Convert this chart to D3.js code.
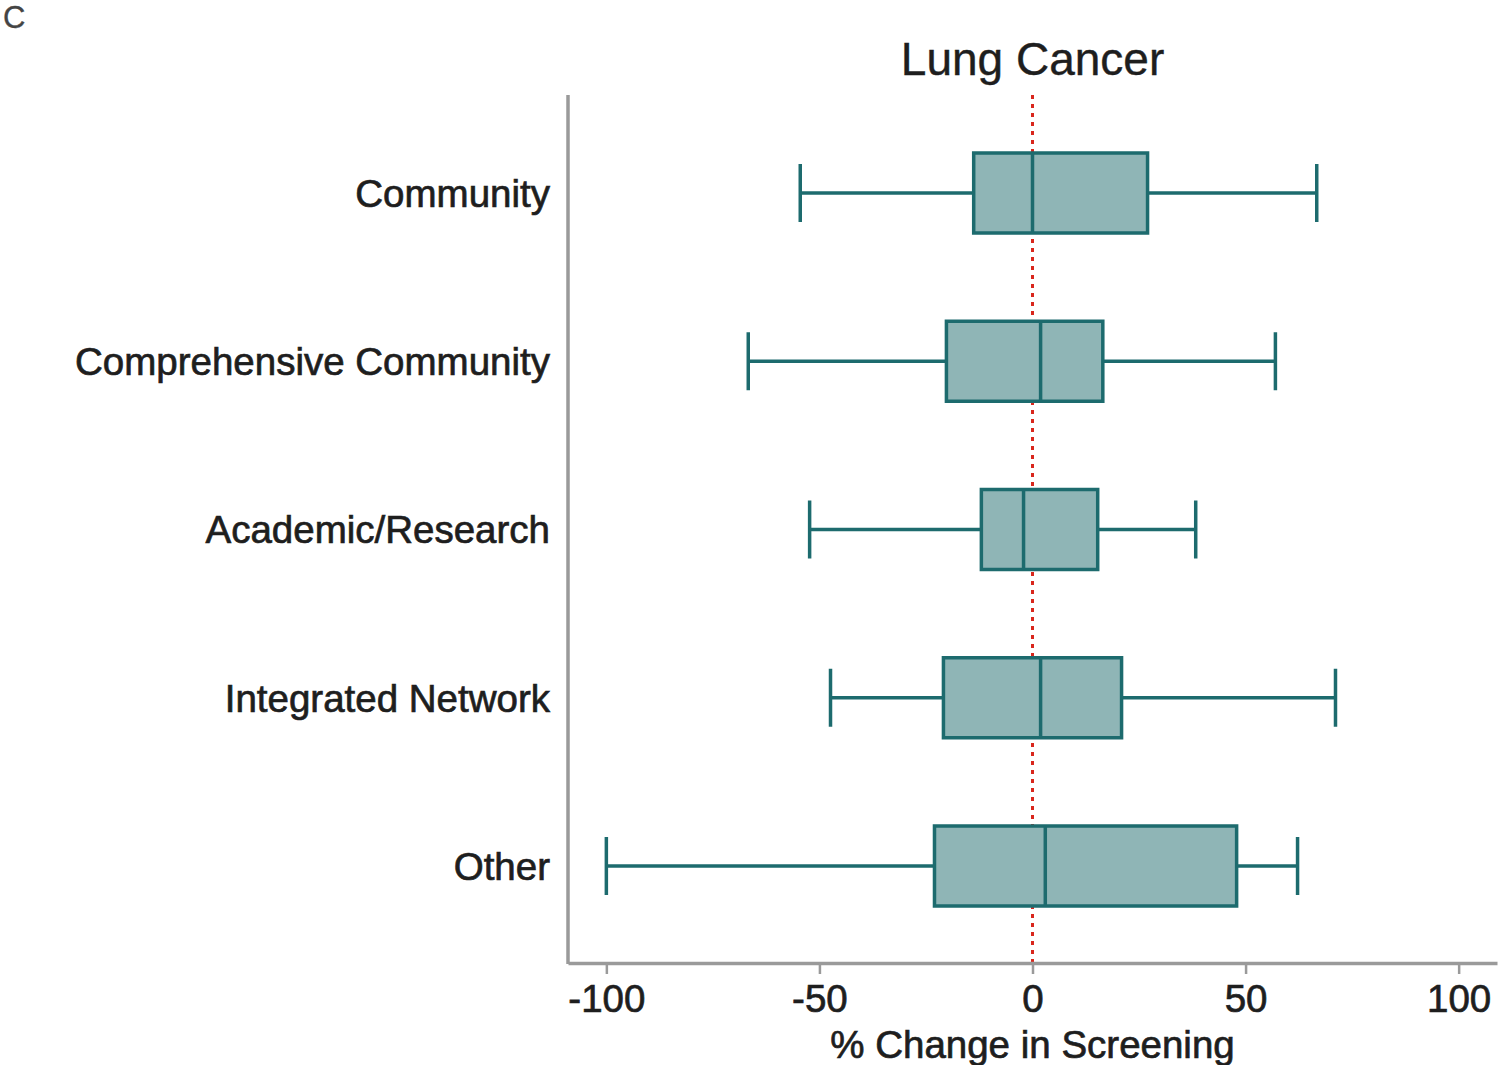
<!DOCTYPE html>
<html><head><meta charset="utf-8">
<script src="https://cdn.jsdelivr.net/npm/d3@7"></script>
<style>body{margin:0;background:#fff}svg{display:block}</style>
</head><body>
<script>
const categories = ["Community","Comprehensive Community","Academic/Research","Integrated Network","Other"];
const whiskerLow = [-54.5,-66.7,-52.3,-47.4,-100];
const q1 = [-13.8,-20.2,-12.0,-20.9,-23.0];
const median = [0,1.9,-2.1,1.9,3.0];
const q3 = [27.0,16.5,15.3,20.9,47.9];
const whiskerHigh = [66.7,57.0,38.3,71.1,62.2];
const tickValues = [-100,-50,0,50,100];
const title = "Lung Cancer";
const xTitle = "% Change in Screening";
const panelLabel = "C";

const W=1500,H=1065;
const svg=d3.select("body").append("svg").attr("width",W).attr("height",H);
const font="Liberation Sans, Arial, sans-serif";
const x=d3.scaleLinear().domain([-109,109]).range([568,1497]);
const y=d3.scalePoint().domain(categories).range([193,866]);
const teal="#1d6b6e", fill="#8fb5b6", grey="#9a9a9a", ink="#1e1e1e";
function txt(sel,size){return sel.attr("font-family",font).attr("font-size",size).attr("fill",ink).attr("stroke",ink).attr("stroke-width",0.7);}

txt(svg.append("text").attr("x",3).attr("y",28),31).attr("fill","#444").attr("stroke","#444").attr("stroke-width",0.3).text(panelLabel);
txt(svg.append("text").attr("x",x(0)).attr("y",75).attr("text-anchor","middle"),46).attr("stroke-width",0.4).text(title);

// zero reference line
svg.append("line").attr("x1",x(0)).attr("x2",x(0)).attr("y1",95).attr("y2",963)
  .attr("stroke","#d9261c").attr("stroke-width",3).attr("stroke-dasharray","4,5");

const data=categories.map((c,i)=>({c,lo:whiskerLow[i],q1:q1[i],md:median[i],q3:q3[i],hi:whiskerHigh[i]}));
const g=svg.append("g");
const bh=80, ch=58, sw=3.5;
data.forEach(d=>{
  const cy=y(d.c);
  g.append("line").attr("x1",x(d.lo)).attr("x2",x(d.q1)).attr("y1",cy).attr("y2",cy).attr("stroke",teal).attr("stroke-width",sw);
  g.append("line").attr("x1",x(d.q3)).attr("x2",x(d.hi)).attr("y1",cy).attr("y2",cy).attr("stroke",teal).attr("stroke-width",sw);
  g.append("line").attr("x1",x(d.lo)).attr("x2",x(d.lo)).attr("y1",cy-ch/2).attr("y2",cy+ch/2).attr("stroke",teal).attr("stroke-width",sw);
  g.append("line").attr("x1",x(d.hi)).attr("x2",x(d.hi)).attr("y1",cy-ch/2).attr("y2",cy+ch/2).attr("stroke",teal).attr("stroke-width",sw);
  g.append("rect").attr("x",x(d.q1)).attr("y",cy-bh/2).attr("width",x(d.q3)-x(d.q1)).attr("height",bh)
    .attr("fill",fill).attr("stroke",teal).attr("stroke-width",sw);
  g.append("line").attr("x1",x(d.md)).attr("x2",x(d.md)).attr("y1",cy-bh/2).attr("y2",cy+bh/2).attr("stroke",teal).attr("stroke-width",sw);
});

// y axis
svg.append("line").attr("x1",568).attr("x2",568).attr("y1",95).attr("y2",964).attr("stroke",grey).attr("stroke-width",3.5);
categories.forEach(c=>{
  txt(svg.append("text").attr("x",550).attr("y",y(c)).attr("dy","0.36em").attr("text-anchor","end"),38.5).text(c);
});

// x axis
const xa=svg.append("g").attr("transform","translate(0,963)")
  .call(d3.axisBottom(x).tickValues(tickValues).tickSize(11).tickSizeOuter(0).tickPadding(11).tickFormat(d=>String(d)));
xa.select(".domain").attr("stroke",grey).attr("stroke-width",3.5);
xa.selectAll(".tick line").attr("stroke",grey).attr("stroke-width",2.5);
txt(xa.selectAll(".tick text"),38.5);
txt(svg.append("text").attr("x",x(0)).attr("y",1058).attr("text-anchor","middle"),38.5).text(xTitle);
</script>
</body></html>
